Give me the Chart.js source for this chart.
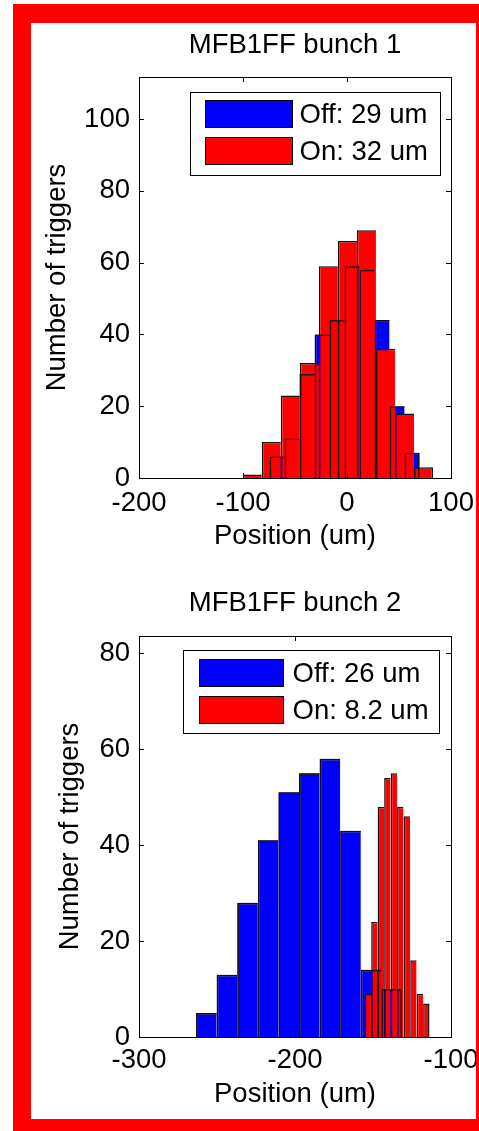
<!DOCTYPE html>
<html>
<head>
<meta charset="utf-8">
<script src="https://cdn.jsdelivr.net/npm/chart.js@4.4.1/dist/chart.umd.min.js"></script>
<style>
  html, body { margin: 0; padding: 0; background: #fff; }
  body { width: 479px; height: 1131px; position: relative; overflow: hidden; }
  .frame { position: absolute; left: 13px; top: 4px; width: 466px; height: 1127px; background: #ff0000; }
  .inner { position: absolute; left: 31px; top: 23px; width: 445px; height: 1096px; background: #fff; }
  canvas { position: absolute; left: 31px; }
  #bunch1 { top: 23px; }
  #bunch2 { top: 570px; }
</style>
</head>
<body>
<div class="frame"></div>
<div class="inner"></div>
<canvas id="bunch1" width="445" height="547"></canvas>
<canvas id="bunch2" width="445" height="549"></canvas>
<script>
// bunch 1 histograms (bin centre in um, count per bin)
const b1OffCenters = [-67.2, -52.8, -38.4, -23.9, -9.5, 4.9, 19.3, 33.7, 48.2, 62.6];
const b1OffCounts = [6, 11, 29, 40, 44, 59, 58, 44, 20, 7];
const b1OnCenters = [-91.1, -72.8, -54.5, -36.2, -17.9, 0.4, 18.7, 37.0, 55.3, 73.6];
const b1OnCounts = [1, 10, 23, 32, 59, 66, 69, 36, 18, 3];
const b1Labels = ['Off: 29 um', 'On: 32 um'];
const b1XTicks = [-200, -100, 0, 100];
const b1YTicks = [0, 20, 40, 60, 80, 100];

// bunch 2
const b2OffCenters = [-256.8, -243.6, -230.4, -217.2, -204.0, -190.8, -177.6, -164.4, -151.2, -138.0];
const b2OffCounts = [5, 13, 28, 41, 51, 55, 58, 43, 14, 10];
const b2OnCenters = [-153.3, -149.1, -145.0, -140.8, -136.6, -132.5, -128.3, -124.1, -119.9, -115.8];
const b2OnCounts = [9, 24, 48, 54, 55, 48, 46, 16, 9, 7];
const b2Labels = ['Off: 26 um', 'On: 8.2 um'];
const b2XTicks = [-300, -200, -100];
const b2YTicks = [0, 20, 40, 60, 80];

const FAMILY = "'Liberation Sans', Arial, Helvetica, sans-serif";
const SIZE = 27.5;
Chart.defaults.font.family = FAMILY;
Chart.defaults.font.size = SIZE;
Chart.defaults.color = '#000';

// matlab style box with inward ticks on all four sides
const frameTicks = {
    id: 'frameTicks',
    afterDatasetsDraw(chart) {
        const { ctx, chartArea: a, scales } = chart;
        const L = 5;
        ctx.save();
        ctx.strokeStyle = '#000';
        ctx.lineWidth = 1;
        ctx.beginPath();
        scales.x.ticks.forEach((t, i) => {
            const px = Math.round(scales.x.getPixelForTick(i)) + 0.5;
            ctx.moveTo(px, a.bottom); ctx.lineTo(px, a.bottom - L);
            ctx.moveTo(px, a.top); ctx.lineTo(px, a.top + L);
        });
        scales.y.ticks.forEach((t, i) => {
            const py = Math.round(scales.y.getPixelForTick(i)) + 0.5;
            ctx.moveTo(a.left, py); ctx.lineTo(a.left + L, py);
            ctx.moveTo(a.right, py); ctx.lineTo(a.right - L, py);
        });
        ctx.stroke();
        ctx.strokeRect(a.left + 0.5, a.top + 0.5, a.right - a.left, a.bottom - a.top);
        ctx.restore();
    }
};

// legend drawn inside the plot, top right, with a border
const boxLegend = {
    id: 'boxLegend',
    afterDraw(chart, args, o) {
        const { ctx, chartArea: a } = chart;
        const items = chart.data.datasets.filter(d => d.label);
        ctx.save();
        ctx.font = SIZE + 'px ' + FAMILY;
        const textW = Math.max(...items.map(d => ctx.measureText(d.label).width));
        const w = Math.round(o.padLeft + o.swatchW + o.gap + textW + o.padRight);
        const x0 = Math.round(a.right - o.right - w) + 0.5;
        const y0 = Math.round(a.top + o.top) + 0.5;
        ctx.fillStyle = '#fff';
        ctx.fillRect(x0, y0, w, o.height);
        ctx.strokeStyle = '#000';
        ctx.lineWidth = 1;
        ctx.strokeRect(x0, y0, w, o.height);
        items.forEach((d, i) => {
            const sx = x0 + o.padLeft;
            const sy = y0 + o.rowTop + i * o.rowStep;
            ctx.fillStyle = d.backgroundColor;
            ctx.fillRect(sx, sy, o.swatchW, o.swatchH);
            ctx.strokeRect(sx, sy, o.swatchW, o.swatchH);
            ctx.fillStyle = '#000';
            ctx.textAlign = 'left';
            ctx.textBaseline = 'middle';
            ctx.fillText(d.label, sx + o.swatchW + o.gap, sy + o.swatchH / 2 + 1);
        });
        ctx.restore();
    }
};

// shared edges drawn once: left + top on every bar, right only on the last one
function edge(c) {
    return { left: 1.5, top: 1.5, right: c.dataIndex === c.dataset.data.length - 1 ? 1.5 : 0, bottom: 0 };
}

function histChart(id, s) {
    const pts = (xs, ys) => xs.map((x, i) => ({ x: x, y: ys[i] }));
    const xMin = s.xTicks[0];
    const xMax = s.xTicks[s.xTicks.length - 1];
    return new Chart(document.getElementById(id), {
        type: 'bar',
        data: {
            datasets: [
                { label: s.labels[0], data: pts(s.offX, s.offY), xAxisID: 'x', backgroundColor: '#0000ff',
                  borderColor: '#111', borderWidth: edge, order: 3 },
                { label: s.labels[1], data: pts(s.onX, s.onY), xAxisID: 'xOn', backgroundColor: '#ff0000',
                  borderColor: '#111', borderWidth: edge, order: 2 },
                { label: '', data: pts(s.offX, s.offY), xAxisID: 'x', backgroundColor: 'rgba(0,0,0,0)',
                  borderColor: '#111', borderWidth: edge, order: 1 }
            ]
        },
        options: {
            responsive: false,
            animation: false,
            events: [],
            grouped: false,
            barPercentage: 1,
            categoryPercentage: 1,
            inflateAmount: 0,
            layout: { padding: { left: 0, right: 25, top: 0, bottom: 0 } },
            scales: {
                x: {
                    type: 'linear', offset: false, min: xMin, max: xMax,
                    afterBuildTicks: sc => { sc.ticks = s.xTicks.map(v => ({ value: v })); },
                    afterFit: sc => { sc.height = s.xHeight; sc.paddingLeft = 0; sc.paddingRight = 0; },
                    grid: { display: false, drawTicks: false, offset: false },
                    border: { display: false },
                    ticks: { padding: s.xTickPad, maxRotation: 0, autoSkip: false },
                    title: { display: true, text: 'Position (um)', padding: { top: 0, bottom: s.xTitlePad } }
                },
                xOn: {
                    type: 'linear', display: false, offset: false, min: xMin, max: xMax,
                    grid: { offset: false }
                },
                y: {
                    min: 0, max: s.yMax,
                    afterBuildTicks: sc => { sc.ticks = s.yTicks.map(v => ({ value: v })); },
                    afterFit: sc => { sc.width = 108; sc.paddingTop = 0; sc.paddingBottom = 0; },
                    grid: { display: false, drawTicks: false },
                    border: { display: false },
                    ticks: { padding: 9 },
                    title: { display: true, text: 'Number of triggers', padding: { top: s.yTitlePad, bottom: 0 } }
                }
            },
            plugins: {
                legend: { display: false },
                tooltip: { enabled: false },
                title: { display: true, text: s.title, fullSize: false, font: { size: SIZE, weight: 'normal' },
                         color: '#000', padding: s.titlePad },
                boxLegend: s.legend
            }
        },
        plugins: [frameTicks, boxLegend]
    });
}

histChart('bunch1', {
    title: 'MFB1FF bunch 1', labels: b1Labels,
    offX: b1OffCenters, offY: b1OffCounts, onX: b1OnCenters, onY: b1OnCounts,
    xTicks: b1XTicks, yTicks: b1YTicks, yMax: 111.7,
    xHeight: 92, xTickPad: 8.5, xTitlePad: 17, yTitlePad: 9.6,
    titlePad: { top: 6, bottom: 15 },
    legend: { right: 11, top: 15, height: 83, padLeft: 15, swatchW: 87, swatchH: 27, gap: 7, padRight: 13, rowTop: 8, rowStep: 37 }
});

histChart('bunch2', {
    title: 'MFB1FF bunch 2', labels: b2Labels,
    offX: b2OffCenters, offY: b2OffCounts, onX: b2OnCenters, onY: b2OnCounts,
    xTicks: b2XTicks, yTicks: b2YTicks, yMax: 83.6,
    xHeight: 82, xTickPad: 6.5, xTitlePad: 8, yTitlePad: 22.5,
    titlePad: { top: 17, bottom: 16 },
    legend: { right: 12, top: 14, height: 83, padLeft: 16, swatchW: 84, swatchH: 27, gap: 9, padRight: 11, rowTop: 9, rowStep: 37 }
});
</script>
</body>
</html>
